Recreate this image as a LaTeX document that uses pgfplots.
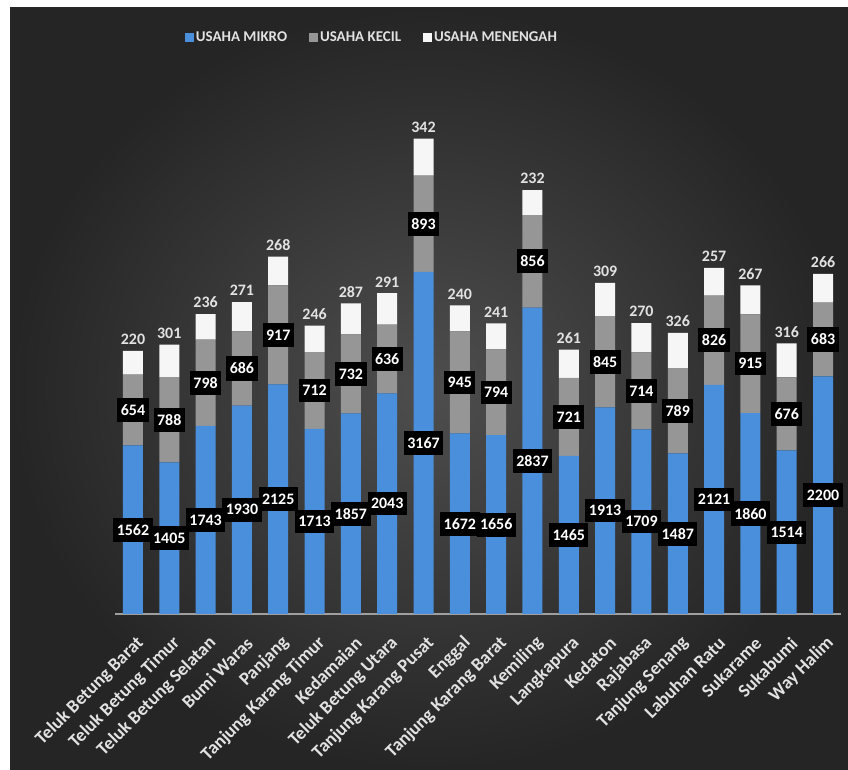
\documentclass[border=0pt]{standalone}
\usepackage{pgfplots}
\pgfplotsset{compat=1.18}
\usepackage{pgfplotstable}
\usepackage{fontspec}
\setmainfont{Carlito}

\definecolor{cMikro}{HTML}{4A8FDB}
\definecolor{cKecil}{HTML}{969696}
\definecolor{cMenengah}{HTML}{F6F6F6}
\definecolor{bgIn}{HTML}{4E4E4E}
\definecolor{bgOut}{HTML}{252525}
\definecolor{txt}{HTML}{E2E2E2}

\pgfplotstableread{
x mikro kecil menengah
0 1562 654 220
1 1405 788 301
2 1743 798 236
3 1930 686 271
4 2125 917 268
5 1713 712 246
6 1857 732 287
7 2043 636 291
8 3167 893 342
9 1672 945 240
10 1656 794 241
11 2837 856 232
12 1465 721 261
13 1913 845 309
14 1709 714 270
15 1487 789 326
16 2121 826 257
17 1860 915 267
18 1514 676 316
19 2200 683 266
}\data
\pgfplotstablecreatecol[create col/expr={\thisrow{mikro}/2}]{mc}\data
\pgfplotstablecreatecol[create col/expr={\thisrow{mikro}+\thisrow{kecil}/2}]{kc}\data
\pgfplotstablecreatecol[create col/expr={\thisrow{mikro}+\thisrow{kecil}+\thisrow{menengah}}]{tot}\data

\pgfplotsset{
  common/.style={
    scale only axis, width=726.4bp, height=540bp,
    at={(114.8bp,156bp)}, anchor=south west,
    xmin=-0.5, xmax=19.5, ymin=0, ymax=5000,
  },
}
\tikzset{
  boxlab/.style={fill=black, text=white, font=\bfseries\fontsize{16}{16}\selectfont,
    inner xsep=3.5bp, inner ysep=6.5bp, anchor=center},
}

\begin{document}
\begin{tikzpicture}
\fill[white] (0,0) rectangle (848bp,770bp);
\shade[inner color=bgIn, outer color=bgOut] (10bp,0) rectangle (848bp,762bp);

\begin{axis}[common,
  ybar stacked, bar width=20bp,
  axis y line=none, axis x line*=bottom,
  x axis line style={-, draw=gray!75, line width=1.6bp},
  xtick={0,...,19}, major tick length=0pt,
  xticklabels={Teluk Betung Barat, Teluk Betung Timur, Teluk Betung Selatan, Bumi Waras, Panjang, Tanjung Karang Timur, Kedamaian, Teluk Betung Utara, Tanjung Karang Pusat, Enggal, Tanjung Karang Barat, Kemiling, Langkapura, Kedaton, Rajabasa, Tanjung Senang, Labuhan Ratu, Sukarame, Sukabumi, Way Halim},
  xticklabel style={rotate=45, anchor=east, text=txt, font=\bfseries\fontsize{18.5}{18.5}\selectfont, inner sep=1bp, yshift=-24bp, xshift=-12bp},
  legend columns=3,
  legend style={at={(0.354,1.067)}, anchor=center, draw=none, fill=none,
    text=txt, font=\bfseries\fontsize{15}{15}\selectfont, inner xsep=0pt,
    /tikz/every even column/.append style={column sep=20bp},
    /tikz/every odd column/.append style={column sep=0bp}},
  legend cell align=left,
  legend image code/.code={\fill[#1, draw=none] (0bp,-4.5bp) rectangle (9bp,4.5bp);},
]
\addplot[fill=cMikro, draw=none] table[x=x, y=mikro] {\data};
\addplot[fill=cKecil, draw=none] table[x=x, y=kecil] {\data};
\addplot[fill=cMenengah, draw=none] table[x=x, y=menengah] {\data};
\legend{USAHA MIKRO, USAHA KECIL, USAHA MENENGAH}
\end{axis}

\begin{axis}[common, hide axis]
\addplot[draw=none, mark=none, nodes near coords, point meta=explicit symbolic,
  every node near coord/.style={boxlab}] table[x=x, y=mc, meta=mikro] {\data};
\addplot[draw=none, mark=none, nodes near coords, point meta=explicit symbolic,
  every node near coord/.style={boxlab}] table[x=x, y=kc, meta=kecil] {\data};
\addplot[draw=none, mark=none, nodes near coords, point meta=explicit symbolic,
  every node near coord/.style={anchor=south, yshift=5bp, text=txt, inner sep=1bp,
  font=\bfseries\fontsize{16}{16}\selectfont}] table[x=x, y=tot, meta=menengah] {\data};
\end{axis}
\end{tikzpicture}
\end{document}
